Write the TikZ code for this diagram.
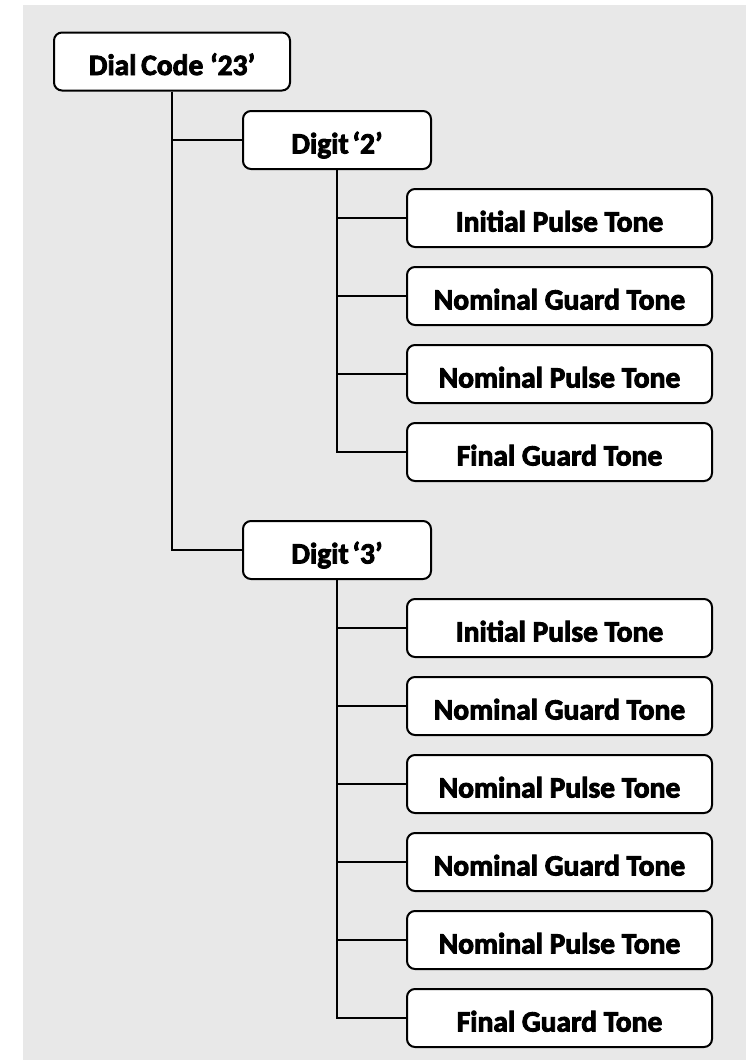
\documentclass[tikz,border=0pt]{standalone}
\usepackage{fontspec}
\setmainfont{Carlito}
\newfontfamily\boxfont{Carlito}[FakeBold=3]
\usetikzlibrary{positioning}
\definecolor{panel}{HTML}{E8E8E8}
\tikzset{
  box/.style={draw=black, fill=white, line width=2pt, rounded corners=8pt,
    minimum height=58pt, inner sep=0pt, text height=27pt, text depth=0pt,
    font=\boxfont\bfseries\fontsize{29.5}{31}\selectfont},
  rootbox/.style={box, minimum width=236pt},
  digitbox/.style={box, minimum width=188pt},
  leafbox/.style={box, minimum width=305pt},
  link/.style={draw=black, line width=2pt}
}
\begin{document}
\begin{tikzpicture}[x=1pt,y=-1pt]
  % page and grey panel
  \fill[white] (0,0) rectangle (746,1060);
  \fill[panel] (23,5) rectangle (746,1060);
  \useasboundingbox (0,0) rectangle (746,1060);

  % root and the two digits
  \node[rootbox] (root) at (172,61.5) {Dial\hspace{-2pt} Code ‘23’};
  \node[digitbox] (dtwo) at (337,140) {Digit\hspace{-3pt} ‘2’};
  \node[digitbox] (dthree) at (337,550) {Digit\hspace{-3pt} ‘3’};

  % tones of digit 2
  \node[leafbox] (a1) at (559.5,218) {Initial Pulse Tone};
  \node[leafbox] (a2) at (559.5,296) {Nominal Guard Tone};
  \node[leafbox] (a3) at (559.5,374) {Nominal Pulse Tone};
  \node[leafbox] (a4) at (559.5,452) {Final Guard Tone};

  % tones of digit 3
  \node[leafbox] (b1) at (559.5,628) {Initial Pulse Tone};
  \node[leafbox] (b2) at (559.5,706) {Nominal Guard Tone};
  \node[leafbox] (b3) at (559.5,784) {Nominal Pulse Tone};
  \node[leafbox] (b4) at (559.5,862) {Nominal Guard Tone};
  \node[leafbox] (b5) at (559.5,940) {Nominal Pulse Tone};
  \node[leafbox] (b6) at (559.5,1018) {Final Guard Tone};

  % tree connectors
  \draw[link] (root.south) |- (dtwo.west);
  \draw[link] (root.south) |- (dthree.west);
  \foreach \n in {a1,a2,a3,a4} \draw[link] (dtwo.south) |- (\n.west);
  \foreach \n in {b1,b2,b3,b4,b5,b6} \draw[link] (dthree.south) |- (\n.west);
\end{tikzpicture}
\end{document}
